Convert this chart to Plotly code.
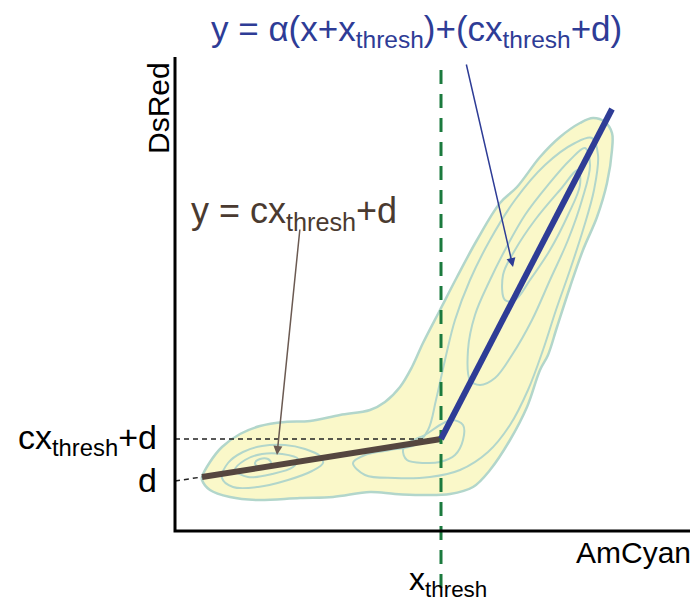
import plotly.graph_objects as go

# ---- schematic data (arbitrary units, origin at axes corner) ----
x_thresh = 266
d_val = 50
cxd_val = 92

brown_x = [27, 266]
brown_y = [54, 92]
ext_x = [0, 27]
ext_y = [50, 54]
blue_x = [266, 437]
blue_y = [92, 422]

green_x = [266, 266]
green_y = [461, -59]
hdash_x = [0, 266]
hdash_y = [92, 92]

axis_x = [0, 0, 520]
axis_y = [474, 0, 0]

outer_x = [27, 35, 47, 65, 85, 110, 135, 165, 195, 210, 225, 237, 248, 265, 282, 302, 325, 342, 365, 385, 405, 418, 430, 437, 437, 432, 422, 408, 395, 382, 373, 365, 352, 335, 315, 298, 275, 245, 220, 195, 158, 125, 82, 55, 35, 27, 27]
outer_y = [54, 69, 84, 97, 105, 109, 110, 116, 121, 129, 144, 164, 188, 221, 254, 291, 328, 344, 374, 394, 408, 413, 409, 398, 381, 348, 314, 281, 244, 204, 176, 161, 124, 91, 61, 44, 37, 36, 37, 39, 34, 33, 31, 34, 41, 51, 54]

contours = {
    "L1": ([47, 53, 68, 87, 110, 130, 145, 148, 137, 113, 83, 58, 47],
           [53, 68, 79, 85, 86, 82, 75, 68, 60, 51, 44, 44, 53]),
    "L2": ([60, 70, 87, 107, 123, 118, 97, 73, 60],
           [61, 71, 77, 77, 72, 64, 57, 54, 61]),
    "L3": ([80, 85, 93, 96, 90, 82, 80],
           [68, 72, 72, 68, 65, 65, 68]),
    "R1": ([178, 190, 215, 240, 253, 261, 270, 280, 295, 315, 340, 370, 400, 417, 423, 419, 408, 395, 381, 368, 353, 335, 313, 285, 255, 220, 190, 178],
           [68, 76, 81, 86, 101, 131, 171, 211, 251, 291, 331, 366, 388, 393, 376, 341, 301, 261, 221, 181, 141, 106, 79, 61, 54, 53, 56, 68]),
    "R2": ([228, 232, 250, 265, 280, 288, 288, 277, 265, 250, 235, 228],
           [81, 71, 68, 69, 76, 91, 106, 111, 106, 96, 89, 81]),
    "R3": ([295, 293, 300, 315, 330, 350, 373, 395, 410, 415, 407, 393, 375, 357, 337, 320, 305, 295],
           [151, 181, 216, 251, 281, 316, 346, 371, 383, 366, 331, 291, 251, 211, 176, 153, 146, 151]),
    "R4": ([330, 328, 340, 360, 385, 403, 405, 393, 375, 355, 340, 330],
           [231, 256, 281, 311, 341, 361, 346, 316, 281, 251, 231, 231]),
}

FONT = "Arial, Liberation Sans, sans-serif"
BLUE = "#2e3c96"
BROWN = "#55463f"
TEAL = "#b2d6cb"
FILL = "#faf8c9"

fig = go.Figure()
fig.add_trace(go.Scatter(x=outer_x, y=outer_y, mode="lines", fill="toself",
                         fillcolor=FILL, line=dict(color=TEAL, width=2.5, shape="spline"),
                         hoverinfo="skip"))
for name, (cx, cy) in contours.items():
    fig.add_trace(go.Scatter(x=cx, y=cy, mode="lines",
                             line=dict(color=TEAL, width=2, shape="spline"), hoverinfo="skip"))

fig.add_trace(go.Scatter(x=hdash_x, y=hdash_y, mode="lines",
                         line=dict(color="#222222", width=1.5, dash="5px,4px")))
fig.add_trace(go.Scatter(x=ext_x, y=ext_y, mode="lines",
                         line=dict(color="#222222", width=1.5, dash="5px,4px")))
fig.add_trace(go.Scatter(x=brown_x, y=brown_y, mode="lines",
                         line=dict(color=BROWN, width=6)))
fig.add_trace(go.Scatter(x=green_x, y=green_y, mode="lines",
                         line=dict(color="#1b7a3e", width=3, dash="14px,10px")))
fig.add_trace(go.Scatter(x=blue_x, y=blue_y, mode="lines",
                         line=dict(color=BLUE, width=6)))
fig.add_trace(go.Scatter(x=axis_x, y=axis_y, mode="lines",
                         line=dict(color="black", width=3)))

ann = []
# arrows
ann.append(dict(x=102, y=76, ax=125, ay=303, xref="x", yref="y", axref="x", ayref="y",
                text="", showarrow=True, arrowhead=2, arrowsize=1.2, arrowwidth=1.5,
                arrowcolor="#6b5a52", standoff=0))
ann.append(dict(x=338, y=264, ax=291, ay=468, xref="x", yref="y", axref="x", ayref="y",
                text="", showarrow=True, arrowhead=2, arrowsize=1.2, arrowwidth=1.5,
                arrowcolor=BLUE, standoff=0))
# texts
ann.append(dict(x=34, y=500, xref="x", yref="y", xanchor="left", yanchor="middle",
                text="y = α(x+x<sub>thresh</sub>)+(cx<sub>thresh</sub>+d)", showarrow=False,
                font=dict(family=FONT, size=35, color=BLUE)))
ann.append(dict(x=14, y=318, xref="x", yref="y", xanchor="left", yanchor="middle",
                text="y = cx<sub>thresh</sub>+d", showarrow=False,
                font=dict(family=FONT, size=36, color="#4a3a30")))
ann.append(dict(x=-16, y=92, xref="x", yref="y", xanchor="right", yanchor="middle",
                text="cx<sub>thresh</sub>+d", showarrow=False,
                font=dict(family=FONT, size=34, color="black")))
ann.append(dict(x=-16, y=51, xref="x", yref="y", xanchor="right", yanchor="middle",
                text="d", showarrow=False,
                font=dict(family=FONT, size=34, color="black")))
ann.append(dict(x=518, y=-21, xref="x", yref="y", xanchor="right", yanchor="middle",
                text="AmCyan", showarrow=False,
                font=dict(family=FONT, size=30, color="black")))
ann.append(dict(x=232, y=-50, xref="x", yref="y", xanchor="left", yanchor="middle",
                text="x<sub>thresh</sub>", showarrow=False,
                font=dict(family=FONT, size=32, color="black")))
ann.append(dict(x=-17, y=423, xref="x", yref="y", xanchor="center", yanchor="middle",
                text="DsRed", textangle=-90, showarrow=False,
                font=dict(family=FONT, size=30, color="black")))

# the page body adds an 8px margin, so the figure is 8px smaller than the window
fig.update_layout(
    width=690, height=603,
    margin=dict(l=0, r=0, t=0, b=0),
    paper_bgcolor="white", plot_bgcolor="white",
    showlegend=False,
    xaxis=dict(range=[-167, 523], visible=False, fixedrange=True),
    yaxis=dict(range=[-80, 523], visible=False, fixedrange=True),
    annotations=ann,
)
fig.write_html("out.html")
